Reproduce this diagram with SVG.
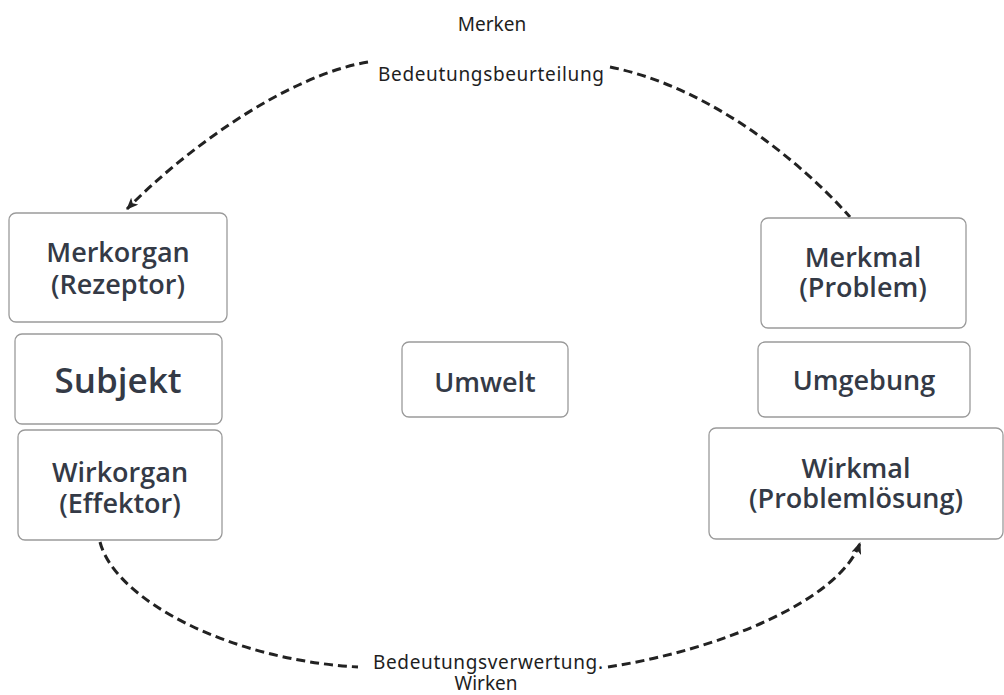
<svg xmlns="http://www.w3.org/2000/svg" width="1004" height="695" viewBox="0 0 1004 695">
  <style>
    .box { fill: #ffffff; stroke: #9a9a9a; stroke-width: 1.3; }
    .node { font-family: "Open Sans", "Noto Sans", "Liberation Sans", sans-serif; font-weight: 600; font-size: 27px; fill: #343a46; text-anchor: middle; }
    .big { font-size: 35px; }
    .label { font-family: "Noto Sans", "Liberation Sans", sans-serif; font-size: 19px; fill: #1e1e1e; text-anchor: middle; }
    .link { fill: none; stroke: #222222; stroke-width: 3; stroke-dasharray: 9 5; }
  </style>
  <defs>
    <marker id="arrow" viewBox="0 0 12 10" refX="11" refY="5" markerWidth="12" markerHeight="10" markerUnits="userSpaceOnUse" orient="auto">
      <path d="M0,0 L12,5 L0,10 L3,5 Z" fill="#222222"/>
    </marker>
  </defs>
  <rect width="1004" height="695" fill="#ffffff"/>

  <!-- Functional circle connectors -->
  <g id="connectors">
    <path class="link" d="M368,62 C290,75 190,145 127,209" marker-end="url(#arrow)"/>
    <path class="link" d="M610,67 C700,85 790,150 850,217"/>
    <path class="link" d="M100,542 C115,600 230,660 358,667"/>
    <path class="link" d="M608,667 C720,650 840,600 860,543" marker-end="url(#arrow)"/>
  </g>

  <!-- Connector labels -->
  <g id="labels">
    <text class="label" x="492" y="31">Merken</text>
    <text class="label" x="491" y="81" textLength="226" lengthAdjust="spacing">Bedeutungsbeurteilung</text>
    <text class="label" x="488" y="669" textLength="230" lengthAdjust="spacing">Bedeutungsverwertung.</text>
    <text class="label" x="486" y="690">Wirken</text>
  </g>

  <!-- Subject side -->
  <g id="merkorgan">
    <rect class="box" x="9" y="213" width="218" height="109" rx="7"/>
    <text class="node" x="118" y="262">Merkorgan</text>
    <text class="node" x="118" y="294">(Rezeptor)</text>
  </g>
  <g id="subjekt">
    <rect class="box" x="15" y="334" width="207" height="90" rx="7"/>
    <text class="node big" x="118" y="393">Subjekt</text>
  </g>
  <g id="wirkorgan">
    <rect class="box" x="18" y="430" width="204" height="110" rx="7"/>
    <text class="node" x="120" y="482">Wirkorgan</text>
    <text class="node" x="120" y="513">(Effektor)</text>
  </g>

  <!-- Centre -->
  <g id="umwelt">
    <rect class="box" x="402" y="342" width="166" height="75" rx="7"/>
    <text class="node" x="485" y="392">Umwelt</text>
  </g>

  <!-- Object side -->
  <g id="merkmal">
    <rect class="box" x="761" y="218" width="205" height="110" rx="7"/>
    <text class="node" x="863" y="267">Merkmal</text>
    <text class="node" x="863" y="297">(Problem)</text>
  </g>
  <g id="umgebung">
    <rect class="box" x="758" y="342" width="212" height="75" rx="7"/>
    <text class="node" x="864" y="390">Umgebung</text>
  </g>
  <g id="wirkmal">
    <rect class="box" x="709" y="428" width="294" height="111" rx="7"/>
    <text class="node" x="856" y="478">Wirkmal</text>
    <text class="node" x="856" y="508">(Problemlösung)</text>
  </g>
</svg>
